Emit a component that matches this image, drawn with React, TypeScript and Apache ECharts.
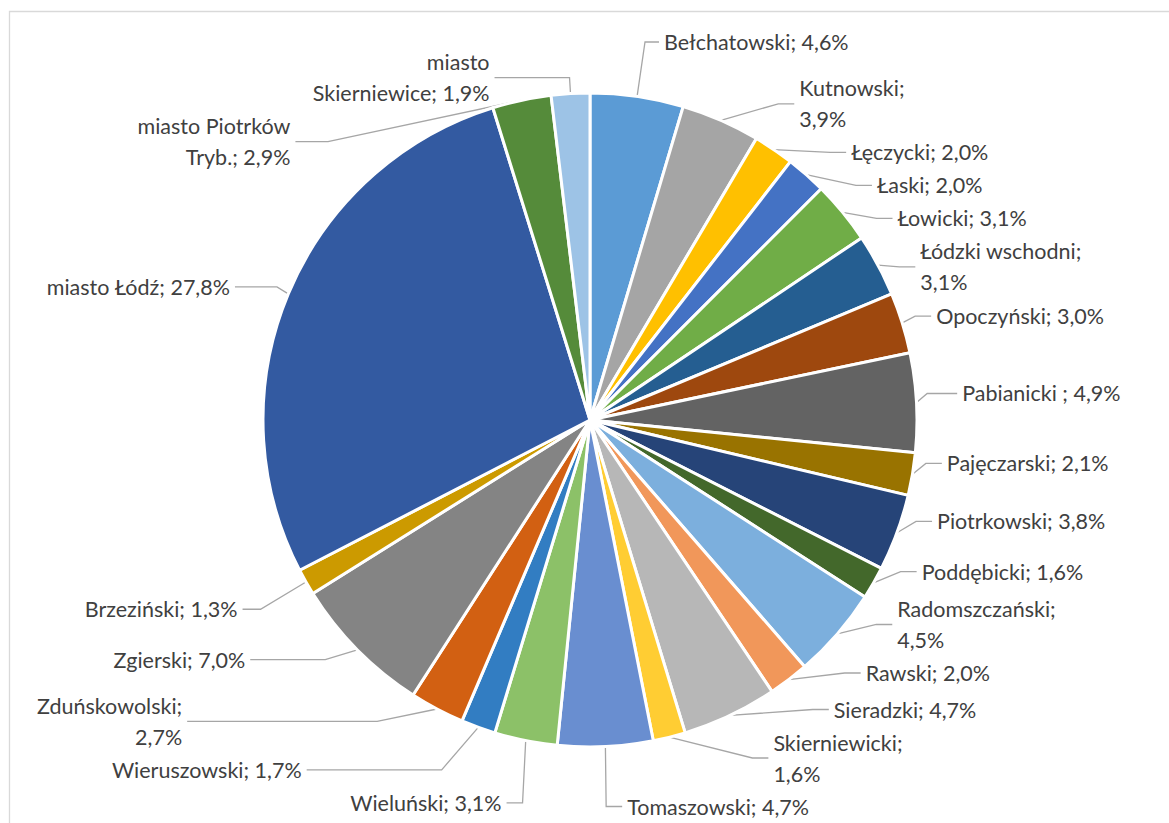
import React, { useEffect, useRef } from "react";
import * as echarts from "echarts";

const names = [
  "Bełchatowski", "Kutnowski", "Łęczycki", "Łaski", "Łowicki", "Łódzki wschodni",
  "Opoczyński", "Pabianicki", "Pajęczarski", "Piotrkowski", "Poddębicki",
  "Radomszczański", "Rawski", "Sieradzki", "Skierniewicki", "Tomaszowski",
  "Wieluński", "Wieruszowski", "Zduńskowolski", "Zgierski", "Brzeziński",
  "miasto Łódź", "miasto Piotrków Tryb.", "miasto Skierniewice",
];

const values = [
  4.6, 3.9, 2.0, 2.0, 3.1, 3.1, 3.0, 4.9, 2.1, 3.8, 1.6, 4.5, 2.0, 4.7, 1.6, 4.7,
  3.1, 1.7, 2.7, 7.0, 1.3, 27.8, 2.9, 1.9,
];

// label name as printed (with Excel's line breaks)
const labelNames = [
  "Bełchatowski", "Kutnowski", "Łęczycki", "Łaski", "Łowicki", "Łódzki wschodni",
  "Opoczyński", "Pabianicki ", "Pajęczarski", "Piotrkowski", "Poddębicki",
  "Radomszczański", "Rawski", "Sieradzki", "Skierniewicki", "Tomaszowski",
  "Wieluński", "Wieruszowski", "Zduńskowolski", "Zgierski", "Brzeziński",
  "miasto Łódź", "miasto Piotrków\nTryb.", "miasto\nSkierniewice",
];
// whether the percentage goes to a new line
const valueOnNewLine = [
  false, true, false, false, false, true, false, false, false, false, false,
  true, false, false, true, false, false, false, true, false, false, false, false, false,
];

const colors = [
  "#5B9BD5", "#A5A5A5", "#FFC000", "#4472C4", "#70AD47", "#255E91",
  "#9E480E", "#636363", "#997300", "#264478", "#43682B", "#7CAFDD",
  "#F1975A", "#B7B7B7", "#FFCD33", "#698ED0", "#8CC168", "#327DC2",
  "#D26012", "#848484", "#CC9A00", "#335AA1", "#558B3A", "#9DC3E6",
];

// leader-line styling per label (first / second segment lengths)
const leaderStyle: Record<string, [number, number]> = {
  "Bełchatowski": [55, 14],
  "miasto Skierniewice": [16, 75],
  "miasto Piotrków Tryb.": [14, 100],
  "miasto Łódź": [18, 42],
  "Brzeziński": [55, 18],
  "Zgierski": [14, 75],
  "Zduńskowolski": [14, 190],
  "Wieruszowski": [14, 135],
  "Pabianicki": [16, 30],
};

const fmt = (v: number) => v.toFixed(1).replace(".", ",") + "%";

export default function App() {
  const ref = useRef<HTMLDivElement>(null);
  useEffect(() => {
    if (!ref.current) return;
    const chart = echarts.init(ref.current, null, { renderer: "svg" });
    chart.setOption({
      animation: false,
      backgroundColor: "#ffffff",
      graphic: [
        {
          type: "rect",
          shape: { x: 9.5, y: 11.5, width: 1200, height: 900 },
          style: { fill: "none", stroke: "#d9d9d9", lineWidth: 1.3 },
          silent: true,
        },
      ],
      series: [
        {
          type: "pie",
          center: [590, 420],
          radius: [0, 327],
          startAngle: 90,
          clockwise: true,
          avoidLabelOverlap: true,
          itemStyle: { borderColor: "#ffffff", borderWidth: 3 },
          label: {
            show: true,
            position: "outside",
            color: "#404040",
            fontFamily: "Lato",
            fontSize: 21.5,
            lineHeight: 31,
            alignTo: "none",
            formatter: (p: any) => {
              const i = p.dataIndex;
              return labelNames[i] + ";" + (valueOnNewLine[i] ? "\n" : " ") + fmt(values[i]);
            },
          },
          labelLine: {
            show: true,
            length: 16,
            length2: 16,
            smooth: false,
            lineStyle: { color: "#a6a6a6", width: 1.3 },
          },
          data: names.map((n, i) => {
            const ls = leaderStyle[n];
            return {
              name: n,
              value: values[i],
              itemStyle: { color: colors[i] },
              ...(ls ? { labelLine: { length: ls[0], length2: ls[1] } } : {}),
            };
          }),
        },
      ],
    });
    return () => chart.dispose();
  }, []);
  return (
    <div style={{ position: "absolute", left: 0, top: 0, width: 1169, height: 823, overflow: "hidden" }}>
      <div ref={ref} style={{ width: 1169, height: 823 }} />
    </div>
  );
}
